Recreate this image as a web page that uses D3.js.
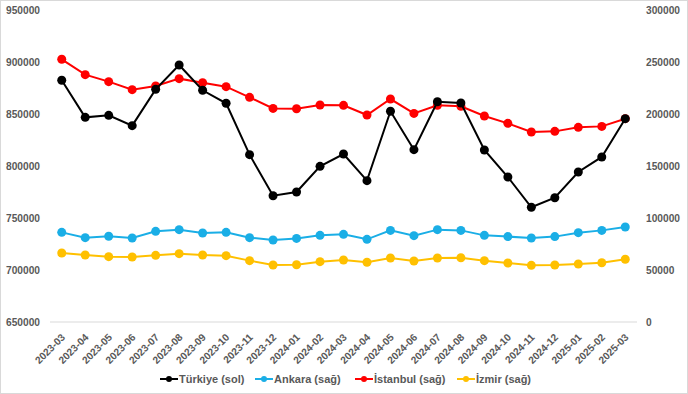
<!DOCTYPE html>
<html><head><meta charset="utf-8">
<script src="https://cdn.jsdelivr.net/npm/d3@7"></script>
<style>body{margin:0;background:#fff}svg{display:block;font-family:"Liberation Sans",Arial,sans-serif}</style>
</head><body><svg id="c" width="688" height="394"></svg>
<script>
const months = ["2023-03","2023-04","2023-05","2023-06","2023-07","2023-08","2023-09","2023-10","2023-11","2023-12","2024-01","2024-02","2024-03","2024-04","2024-05","2024-06","2024-07","2024-08","2024-09","2024-10","2024-11","2024-12","2025-01","2025-02","2025-03"];
const turkiye = [882500,846800,848700,838800,873700,897100,872800,860300,810900,771400,775000,799700,811500,785900,852600,815700,861800,860600,815400,789400,760300,769500,794200,808700,845500];
const ankara = [86200,81100,82400,80800,87200,88800,85600,86200,81100,78800,80400,83300,84300,79500,88100,83000,88800,88100,83300,82100,80800,82100,85900,88100,91300];
const istanbul = [252600,237800,231100,223400,226900,234000,230100,226300,216000,205400,205100,208700,208300,199000,214400,200600,208300,207400,198100,191000,182700,183300,187200,188100,195500];
const izmir = [66300,64400,62800,62500,64100,65700,64400,63800,59000,54800,55100,58000,59600,57400,61500,58700,61500,61800,59000,56700,54500,54800,55800,57000,60300];
const leftTicks = [650000,700000,750000,800000,850000,900000,950000];
const rightTicks = [0,50000,100000,150000,200000,250000,300000];
const seriesNames = ["Türkiye (sol)","Ankara (sağ)","İstanbul (sağ)","İzmir (sağ)"];

const svg = d3.select("#c");
const W = 688, H = 394;
svg.append("rect").attr("x",0.5).attr("y",0.5).attr("width",W-1).attr("height",H-1).attr("fill","#fff").attr("stroke","#d9d9d9");

const x = d3.scaleBand().domain(months).range([50,637]);
const cx = m => x(m) + x.bandwidth()/2;
const yL = d3.scaleLinear().domain([650000,950000]).range([322,10]);
const yR = d3.scaleLinear().domain([0,300000]).range([322,10]);
const txt = "#595959";

// baseline
svg.append("line").attr("x1",50).attr("x2",637).attr("y1",yL(650000)).attr("y2",yL(650000)).attr("stroke","#d9d9d9").attr("stroke-width",1);

// left axis labels
const gl = svg.append("g").call(d3.axisLeft(yL).tickValues(leftTicks).tickSize(0).tickFormat(d3.format("d")));
gl.select(".domain").remove();
gl.selectAll("text").attr("x",6).attr("text-anchor","start").attr("dy","0.35em").attr("fill",txt).style("font-size","10.2px").style("font-weight","bold").style("font-family","Liberation Sans, Arial, sans-serif");

const gr = svg.append("g").call(d3.axisRight(yR).tickValues(rightTicks).tickSize(0).tickFormat(d3.format("d")));
gr.select(".domain").remove();
gr.selectAll("text").attr("x",646).attr("text-anchor","start").attr("dy","0.35em").attr("fill",txt).style("font-size","10.2px").style("font-weight","bold").style("font-family","Liberation Sans, Arial, sans-serif");

// x labels
const gx = svg.append("g").attr("transform","translate(0,322)").call(d3.axisBottom(x).tickSize(0));
gx.select(".domain").remove();
gx.selectAll(".tick text").attr("text-anchor","end").attr("transform","translate(4,16) rotate(-45)").attr("y",0).attr("dy","0").attr("fill",txt).style("font-size","10.2px").style("font-weight","bold").style("font-family","Liberation Sans, Arial, sans-serif");

const series = [
  {name:seriesNames[1], vals:ankara, y:yR, color:"#1aaee6"},
  {name:seriesNames[3], vals:izmir, y:yR, color:"#ffc000"},
  {name:seriesNames[2], vals:istanbul, y:yR, color:"#ff0000"},
  {name:seriesNames[0], vals:turkiye, y:yL, color:"#000000"}
];
series.forEach(s => {
  const line = d3.line().x((d,i)=>cx(months[i])).y(d=>s.y(d));
  svg.append("path").attr("d",line(s.vals)).attr("fill","none").attr("stroke",s.color).attr("stroke-width",2);
  svg.append("g").selectAll("circle").data(s.vals).join("circle")
    .attr("cx",(d,i)=>cx(months[i])).attr("cy",d=>s.y(d)).attr("r",4.5).attr("fill",s.color);
});

// legend
const legend = [
  {name:seriesNames[0], color:"#000000", x:160},
  {name:seriesNames[1], color:"#1aaee6", x:255},
  {name:seriesNames[2], color:"#ff0000", x:355},
  {name:seriesNames[3], color:"#ffc000", x:457}
];
const lg = svg.append("g");
legend.forEach(l => {
  lg.append("line").attr("x1",l.x).attr("x2",l.x+18).attr("y1",379).attr("y2",379).attr("stroke",l.color).attr("stroke-width",2);
  lg.append("circle").attr("cx",l.x+9).attr("cy",379).attr("r",3).attr("fill",l.color);
  lg.append("text").attr("x",l.x+19).attr("y",379).attr("dy","0.35em").attr("fill",txt).style("font-size","11px").style("font-weight","bold").text(l.name);
});
</script></body></html>
